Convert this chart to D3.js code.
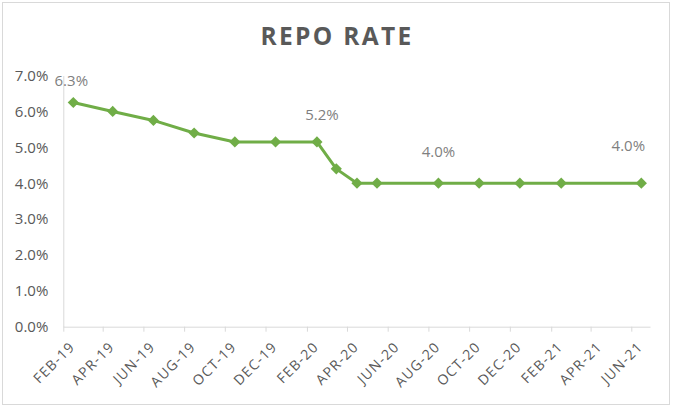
<!DOCTYPE html>
<html><head><meta charset="utf-8">
<script src="https://cdn.jsdelivr.net/npm/d3@7"></script>
<style>
html,body{margin:0;padding:0;background:#fff;}
svg{display:block;font-family:"Open Sans",sans-serif;}
</style></head>
<body>
<svg id="chart" width="675" height="408"></svg>
<script>
// ---- data ----
const dates = ["2019-02-16","2019-04-16","2019-06-16","2019-08-16","2019-10-16","2019-12-16",
  "2020-02-16","2020-03-16","2020-04-16","2020-05-16","2020-08-16","2020-10-16","2020-12-16",
  "2021-02-16","2021-06-16"];
const repoRate = [6.25,6.0,5.75,5.4,5.15,5.15,5.15,4.4,4.0,4.0,4.0,4.0,4.0,4.0,4.0];
const tickMonths = ["2019-02","2019-04","2019-06","2019-08","2019-10","2019-12","2020-02","2020-04",
  "2020-06","2020-08","2020-10","2020-12","2021-02","2021-04","2021-06"];
const yTicks = [0,1,2,3,4,5,6,7];
const labeledIdx = [0,6,10,14];
const title = "REPO RATE";

// ---- layout ----
const svg = d3.select("#chart");
const parseDay = d3.timeParse("%Y-%m-%d");
const parseMonth = d3.timeParse("%Y-%m");
const data = dates.map((d,i)=>({date:parseDay(d), v:repoRate[i]}));

const x = d3.scaleTime()
  .domain([new Date(2019,1,1), new Date(2021,5,29)])
  .range([63.3, 650]);
const y = d3.scaleLinear().domain([0,7]).range([326.7, 75.6]);

// outer border
svg.append("rect").attr("x",2.5).attr("y",2.5).attr("width",667).attr("height",402)
  .attr("fill","#fff").attr("stroke","#d9d9d9").attr("stroke-width",1);

// title
svg.append("text").attr("x",337).attr("y",44.5).attr("text-anchor","middle")
  .attr("font-size",24.5).attr("font-weight","bold").attr("fill","#595959")
  .attr("letter-spacing","2.3px").text(title);

// y axis
const yAxis = d3.axisLeft(y).tickValues(yTicks).tickSize(0).tickPadding(15)
  .tickFormat(d=>d3.format(".1f")(d)+"%");
const gy = svg.append("g").attr("transform","translate(63.3,0)").call(yAxis);
gy.select(".domain").attr("stroke","#d9d9d9");
gy.selectAll("text").attr("font-size",15).attr("fill","#595959").attr("font-family","Open Sans");

// x axis
const tickDates = tickMonths.map(parseMonth);
const fmt = d3.timeFormat("%b-%y");
const xAxis = d3.axisBottom(x).tickValues(tickDates).tickSize(5).tickSizeOuter(0)
  .tickFormat(d=>fmt(d).toUpperCase());
const gx = svg.append("g").attr("transform","translate(0,326.7)").call(xAxis);
gx.select(".domain").attr("stroke","#d9d9d9");
gx.selectAll(".tick line").attr("stroke","#d9d9d9");
gx.selectAll("text").attr("font-size",14).attr("fill","#595959").attr("font-family","Open Sans")
  .attr("letter-spacing","1.2px")
  .attr("text-anchor","end").attr("dy",null).attr("y",0)
  .attr("transform","translate(12,21) rotate(-45)");

// line
const line = d3.line().x(d=>x(d.date)).y(d=>y(d.v));
svg.append("path").datum(data).attr("d",line).attr("fill","none")
  .attr("stroke","#70ad47").attr("stroke-width",3).attr("stroke-linejoin","round");

// markers
svg.selectAll(".mk").data(data).enter().append("path").attr("class","mk")
  .attr("d",d3.symbol().type(d3.symbolDiamond2).size(80))
  .attr("transform",d=>`translate(${x(d.date)},${y(d.v)})`)
  .attr("fill","#70ad47");

// data labels (manually offset like the original)
const labelOffsets = [[-2,-17],[5,-22],[0,-26],[-13,-32]];
svg.selectAll(".dl").data(labeledIdx).enter().append("text").attr("class","dl")
  .attr("x",(k,i)=>x(data[k].date)+labelOffsets[i][0])
  .attr("y",(k,i)=>y(data[k].v)+labelOffsets[i][1])
  .attr("text-anchor","middle").attr("font-size",15).attr("fill","#7f7f7f")
  .text(k=>d3.format(".1f")(data[k].v)+"%");
</script>
</body></html>
